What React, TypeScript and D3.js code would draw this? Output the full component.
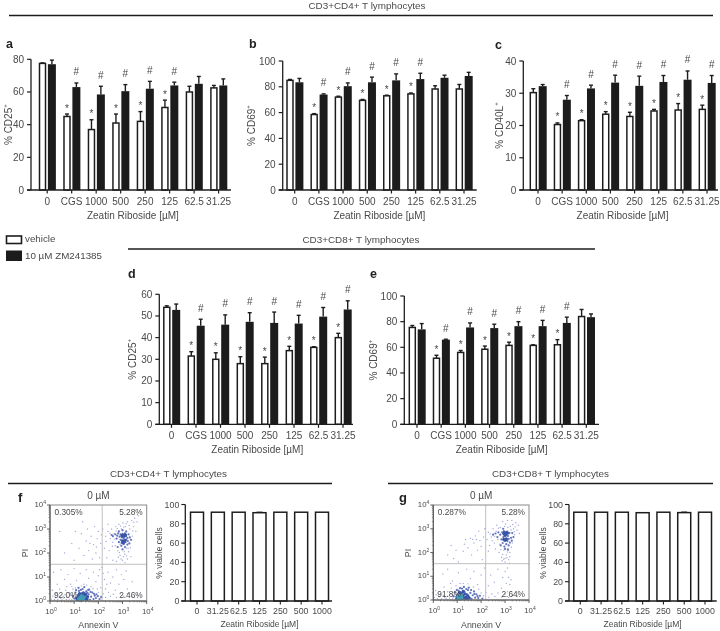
import React from "react";
import * as d3 from "d3";

const FONT = "'Liberation Sans', Arial, sans-serif";
const INK = "#1f1f1f";
const TXT = "#4a4a4a";

const doses = ["0", "CGS", "1000", "500", "250", "125", "62.5", "31.25"];
const viableDosesF = ["0", "31.25", "62.5", "125", "250", "500", "1000"];

const aWhite = [77.5, 45, 37, 41, 42, 50.5, 60, 62.5];
const aWhiteErr = [0.3, 1.5, 6, 5.5, 6, 4.5, 3.5, 1.5];
const aBlack = [77, 63, 58.5, 60.5, 62, 64, 65, 64];
const aBlackErr = [2.5, 2.5, 5, 4, 4.5, 2, 4.5, 4];

const bWhite = [85, 58.5, 72, 69.5, 73, 74.5, 78.3, 78.3];
const bWhiteErr = [0.7, 0.7, 0.7, 0.7, 0.5, 0.7, 2.5, 3.5];
const bBlack = [83.5, 74, 80.5, 83.5, 85, 86, 87, 88.4];
const bBlackErr = [3, 0.5, 2.5, 4, 5, 4.5, 2, 2.8];

const cWhite = [30.2, 20.3, 21.5, 23.5, 22.8, 24.5, 24.8, 25];
const cWhiteErr = [1.2, 0.5, 0.3, 0.8, 1.3, 0.5, 2, 1.3];
const cBlack = [32.2, 28, 31.5, 33.3, 32.3, 33.5, 34.2, 33.2];
const cBlackErr = [0.5, 1.3, 1, 2.3, 3, 2, 2.7, 2.3];

const dWhite = [54, 31.5, 30, 28, 28, 34, 35.5, 40];
const dWhiteErr = [0.7, 2, 3, 3.2, 3, 2, 0.3, 2];
const dBlack = [52.8, 45.5, 46, 47.3, 46.8, 46.5, 49.7, 53];
const dBlackErr = [2.7, 3, 4.5, 4.2, 5, 3.8, 4.2, 4];

const eWhite = [75.5, 51.5, 56, 58.5, 61.5, 61.5, 62, 84];
const eWhiteErr = [1.5, 2.3, 1.5, 2.5, 2.5, 0.5, 4, 5.5];
const eBlack = [74, 66, 75.5, 75, 76.5, 76.5, 79, 83.5];
const eBlackErr = [4.5, 0.3, 3.5, 3, 3.5, 4.5, 4.5, 2.5];

const viableF = [92, 92, 92, 91.5, 92, 92, 92];
const viableFErr = [0, 0, 0, 0.6, 0, 0, 0];
const viableG = [92, 92, 92, 91.5, 92, 91.6, 92];
const viableGErr = [0, 0, 0, 0, 0, 0.6, 0];

type P = [number, number];

const fSparse: P[] = [
  [2.3,2.7],[2.4,2.9],[2.5,2.6],[2.55,3.0],[2.6,2.45],[2.65,2.8],[2.7,2.3],[2.72,3.1],[2.8,2.1],[2.8,2.6],[2.85,3.2],[2.9,1.9],[2.9,2.35],[2.95,3.0],[3.0,1.7],[3.0,2.15],[3.02,3.25],[3.1,1.6],[3.1,1.95],[3.12,3.1],[3.15,2.2],[3.2,1.75],[3.2,3.3],[3.25,2.05],[3.3,2.4],[3.3,3.0],[3.35,1.85],[3.38,3.35],[3.4,2.7],[3.45,3.1],[3.5,3.45],[3.55,2.9],[3.6,3.3],[3.65,3.55],[2.25,2.2],[2.35,1.8],[2.45,2.1],[2.6,1.7],[2.75,1.65],[2.4,3.2],
  [2.32,2.48],[2.48,2.82],[2.58,2.28],[2.66,2.58],[2.74,2.92],[2.83,1.82],[2.87,2.02],[2.94,1.75],[3.04,1.85],[3.07,2.05],[3.17,1.88],[3.23,2.2],[3.28,3.15],[3.33,2.22],[3.42,2.92],[3.47,3.28],[3.05,3.08],[2.92,3.12],[3.15,3.22],[2.78,3.02],
  [0.6,2.0],[0.9,2.4],[1.0,1.7],[1.2,2.2],[1.3,2.8],[1.4,1.9],[1.5,2.5],[1.55,3.0],[1.6,2.1],[1.7,2.7],[1.75,1.75],[1.8,2.35],[1.85,3.1],[1.9,2.0],[1.95,2.6],[2.0,2.9],[2.05,1.8],[2.1,2.4],[1.35,3.3],[0.4,2.9],[1.05,2.9],[1.65,2.4],[1.92,2.25],[2.12,2.75],[2.18,3.0],
  [0.15,1.2],[0.3,0.7],[0.45,1.3],[0.6,0.9],[0.75,1.1],[0.9,0.6],[1.0,1.35],[1.1,0.85],[1.25,1.15],[1.4,0.7],[1.5,1.3],[1.6,0.95],[1.7,0.6],[1.8,1.2],[1.9,0.8],[2.0,1.05],[2.1,0.55],[2.15,1.4],[2.25,0.9],[2.3,0.5],[2.4,1.2],[2.5,0.75],[2.6,1.0],[2.7,0.45],[2.75,1.3],[2.85,0.7],[2.95,1.1],[3.05,0.9],[3.15,1.25],[3.2,0.5],[2.05,1.3],[2.2,1.15],[2.35,0.7],[3.4,0.8],
  [0.1,0.45],[0.25,0.3],[0.4,0.5],[0.55,0.2],[0.65,0.45],[0.8,0.35],[0.95,0.5],[1.05,0.55],[2.0,0.35],[2.1,0.2],[2.2,0.3],[2.3,0.15],[2.42,0.35],[2.5,0.2],[2.62,0.28],[2.75,0.15],[2.9,0.3],[3.05,0.2],[3.2,0.3],[3.4,0.18],[3.6,0.25],
  [0.06,0.08],[0.12,0.2],[0.18,0.05],[0.24,0.14],[0.32,0.06],[0.38,0.2],[0.44,0.1],[0.5,0.04],[0.56,0.12],[0.62,0.26],[0.68,0.06],[0.74,0.16],[0.8,0.08],[0.86,0.24],[0.9,0.05],[0.96,0.14],[0.7,0.6],[0.85,0.7],[1.3,0.62],[1.52,0.66],[1.78,0.52],[1.96,0.5],
];
const fMid: P[] = [
  [2.55,2.75],[2.6,2.7],[2.7,2.78],[2.75,2.6],[2.78,2.72],[2.82,2.82],[2.85,2.45],[2.88,2.68],[2.92,2.55],[2.92,2.78],[2.95,2.3],[2.96,2.42],[2.98,2.65],[3.0,2.8],[3.02,2.5],[3.05,2.38],[3.05,2.62],[3.08,2.72],[3.1,2.82],[3.12,2.45],[3.15,2.56],[3.15,2.7],[3.2,2.35],[3.2,2.62],[3.22,2.5],[3.25,2.78],[3.28,2.4],[3.3,2.65],[3.35,2.55],[2.85,2.9],[3.0,2.95],[3.15,2.9],[2.8,2.25],[3.1,2.25],[3.0,2.15],
  [0.95,0.2],[1.0,0.1],[1.05,0.35],[1.1,0.05],[1.15,0.25],[1.2,0.42],[1.25,0.12],[1.3,0.32],[1.35,0.5],[1.4,0.08],[1.45,0.22],[1.5,0.4],[1.55,0.1],[1.6,0.28],[1.65,0.05],[1.7,0.18],[1.75,0.35],[1.8,0.08],[1.85,0.22],[1.9,0.12],[1.98,0.2],[2.05,0.08],[2.12,0.16],[1.18,0.55],[1.42,0.58],[1.62,0.48],
  [1.08,0.45],[1.28,0.46],[1.55,0.34],[1.68,0.38],[1.58,0.46],[1.82,0.3],[1.92,0.28],
];
const fCore: P[] = [
  [2.98,2.72],[3.02,2.74],[3.07,2.71],[3.12,2.75],[3.0,2.5],[3.05,2.48],[3.1,2.52],[3.03,2.42],
  [1.1,0.12],[1.15,0.05],[1.18,0.18],[1.22,0.08],[1.25,0.22],[1.28,0.05],[1.3,0.14],[1.33,0.26],[1.36,0.06],[1.4,0.17],[1.44,0.1],[1.47,0.28],[1.52,0.06],[1.55,0.18],[1.22,0.3],[1.38,0.34],
];
const fHot: P[] = [[1.2,0.08],[1.26,0.14],[1.32,0.06],[1.38,0.12],[1.24,0.04],[1.3,0.2]];

const gSparse: P[] = [
  [2.25,2.55],[2.3,2.85],[2.35,2.3],[2.42,2.65],[2.5,3.0],[2.55,2.4],[2.6,2.15],[2.65,3.15],[2.7,2.55],[2.75,2.0],[2.78,2.35],[2.8,3.05],[2.85,1.8],[2.9,3.3],[2.95,2.1],[3.0,1.6],[3.02,3.2],[3.05,1.9],[3.1,3.35],[3.12,2.15],[3.15,1.7],[3.2,2.0],[3.22,3.1],[3.28,3.35],[3.3,2.4],[3.35,3.0],[3.4,2.75],[3.45,3.25],[3.5,2.95],[3.55,3.15],[3.6,2.8],[3.0,1.75],[2.88,1.65],[3.18,1.55],[2.3,2.05],
  [2.38,2.78],[2.46,2.5],[2.56,2.68],[2.63,2.9],[2.72,3.02],[2.82,2.12],[2.9,1.92],[2.94,1.72],[3.08,1.78],[3.1,2.02],[3.2,1.82],[3.26,2.22],[3.25,2.95],[3.32,3.18],[3.38,2.88],[3.42,3.08],[2.98,3.1],[3.12,3.05],
  [0.6,1.9],[0.85,1.75],[0.95,2.1],[1.25,2.05],[1.35,2.55],[1.45,2.2],[1.55,2.6],[1.6,1.9],[1.7,2.4],[1.75,2.7],[1.85,2.1],[1.9,2.9],[1.95,2.5],[2.0,2.25],[2.05,1.7],[2.1,2.65],[2.15,3.0],[1.3,2.35],[1.65,2.55],[1.8,2.55],[0.75,2.3],[1.05,1.6],
  [0.4,1.1],[0.6,1.3],[0.8,0.8],[1.05,1.15],[1.25,0.7],[1.4,1.3],[1.55,0.9],[1.7,1.2],[1.85,0.65],[2.0,1.05],[2.15,1.35],[2.3,0.6],[2.4,1.05],[2.55,0.75],[2.7,1.3],[2.85,0.5],[2.9,0.95],[3.0,1.2],[3.05,0.7],[3.1,0.35],[3.15,0.95],[3.2,0.65],[3.25,0.85],[3.1,1.35],
  [0.1,0.4],[0.3,0.25],[0.45,0.55],[0.6,0.35],[0.75,0.5],[0.85,0.2],[0.95,0.6],[1.0,0.45],[2.0,0.3],[2.1,0.18],[2.2,0.32],[2.32,0.12],[2.45,0.25],[2.58,0.15],[2.7,0.3],[2.85,0.12],[3.0,0.25],[3.15,0.1],[3.3,0.2],[3.5,0.15],
  [0.05,0.1],[0.12,0.22],[0.18,0.06],[0.26,0.14],[0.34,0.05],[0.42,0.2],[0.48,0.1],[0.54,0.05],[0.6,0.16],[0.68,0.08],[0.74,0.24],[0.8,0.06],[0.72,0.7],[1.12,0.7],[1.45,0.68],[1.68,0.55],[1.9,0.45],
];
const gMid: P[] = [
  [2.5,2.75],[2.6,2.8],[2.68,2.65],[2.72,2.85],[2.8,2.75],[2.85,2.55],[2.88,2.85],[2.9,2.4],[2.93,2.65],[2.95,2.9],[2.97,2.25],[3.0,2.5],[3.02,2.78],[3.05,2.35],[3.05,2.6],[3.08,2.88],[3.1,2.48],[3.12,2.7],[3.15,2.3],[3.15,2.57],[3.18,2.82],[3.2,2.42],[3.25,2.62],[3.28,2.5],[3.3,2.82],[2.82,2.3],[3.0,2.15],[3.12,2.12],[3.35,2.65],[2.92,3.0],
  [0.85,0.15],[0.9,0.32],[0.95,0.05],[1.0,0.2],[1.05,0.4],[1.1,0.1],[1.15,0.28],[1.2,0.48],[1.25,0.15],[1.3,0.35],[1.35,0.05],[1.4,0.25],[1.45,0.42],[1.5,0.12],[1.55,0.3],[1.6,0.05],[1.65,0.2],[1.7,0.36],[1.75,0.1],[1.8,0.24],[1.88,0.08],[1.95,0.18],[2.05,0.06],[1.28,0.55],[1.48,0.52],
  [0.98,0.42],[1.12,0.5],[1.38,0.46],[1.58,0.42],[1.72,0.26],[1.85,0.16],
];
const gCore: P[] = [
  [2.95,2.8],[3.0,2.83],[3.05,2.79],[3.1,2.82],[2.95,2.55],[3.0,2.52],[3.05,2.56],[3.0,2.72],
  [1.0,0.1],[1.03,0.2],[1.08,0.05],[1.12,0.16],[1.16,0.28],[1.2,0.06],[1.24,0.18],[1.28,0.08],[1.32,0.26],[1.36,0.12],[1.4,0.05],[1.44,0.18],[1.5,0.08],[1.1,0.32],[1.25,0.36],
];
const gHot: P[] = [[1.06,0.08],[1.12,0.05],[1.1,0.14],[1.18,0.1],[1.04,0.16],[1.16,0.18]];

const SUP_DY = -3;

function Label({ x, y, text, size = 10, anchor = "middle", rotate = false, sup }: any) {
  return (
    <text
      x={rotate ? 0 : x}
      y={rotate ? 0 : y}
      transform={rotate ? `translate(${x},${y}) rotate(-90)` : undefined}
      fontFamily={FONT}
      fontSize={size}
      fill={TXT}
      textAnchor={anchor}
      dominantBaseline="central"
    >
      {text}
      {sup && <tspan dy={SUP_DY} fontSize={size * 0.6}>{sup}</tspan>}
    </text>
  );
}

function Rule({ x1, x2, y }: { x1: number; x2: number; y: number }) {
  return <line x1={x1} x2={x2} y1={y} y2={y} stroke={INK} strokeWidth={1.5} />;
}

function Grouped({ axisX, endX, y0, yTop, first, last, max, step, white, whiteErr, black, blackErr, sigWhite, title, sup, titleX, letter, letterX, letterY }: any) {
  const y = d3.scaleLinear().domain([0, max]).range([y0, yTop]);
  const x = d3.scalePoint<string>().domain(doses).range([first, last]);
  const ticks = d3.range(0, max + 0.001, step);
  const off = 4.7;
  const w = 6;
  const bw = 8;
  return (
    <g>
      <text x={letterX} y={letterY} fontFamily={FONT} fontSize={12.5} fontWeight="bold" fill="#222" dominantBaseline="central">{letter}</text>
      {doses.map((d, i) => {
        const c = x(d)!;
        const wx = c - off;
        const bx = c + off;
        const wt = y(white[i] + whiteErr[i]);
        const bt = y(black[i] + blackErr[i]);
        const isSig = sigWhite.includes(i);
        return (
          <g key={d}>
            <line x1={wx} x2={wx} y1={y(white[i])} y2={wt} stroke={INK} strokeWidth={1.4} />
            <line x1={wx - 2} x2={wx + 2} y1={wt} y2={wt} stroke={INK} strokeWidth={1.4} />
            <rect x={wx - w / 2} y={y(white[i])} width={w} height={y0 - y(white[i])} fill="#fff" stroke={INK} strokeWidth={1.5} />
            <line x1={bx} x2={bx} y1={y(black[i])} y2={bt} stroke={INK} strokeWidth={1.4} />
            <line x1={bx - 2} x2={bx + 2} y1={bt} y2={bt} stroke={INK} strokeWidth={1.4} />
            <rect x={bx - bw / 2} y={y(black[i])} width={bw} height={y0 - y(black[i])} fill={INK} />
            {isSig && <text x={wx} y={wt - 6} fontFamily={FONT} fontSize={10} fill={TXT} textAnchor="middle" dominantBaseline="central">*</text>}
            {isSig && <text x={bx} y={bt - 11} fontFamily={FONT} fontSize={10} fill={TXT} textAnchor="middle" dominantBaseline="central">#</text>}
            <line x1={c} x2={c} y1={y0} y2={y0 + 3.5} stroke={INK} strokeWidth={1.2} />
            <Label x={c} y={y0 + 11.5} text={d} />
          </g>
        );
      })}
      <line x1={axisX - 4} x2={endX} y1={y0} y2={y0} stroke={INK} strokeWidth={1.3} />
      <line x1={axisX} x2={axisX} y1={y0} y2={yTop} stroke={INK} strokeWidth={1.3} />
      {ticks.map((t: number) => (
        <g key={t}>
          <line x1={axisX - 4} x2={axisX} y1={y(t)} y2={y(t)} stroke={INK} strokeWidth={1.2} />
          <Label x={axisX - 7} y={y(t)} text={String(t)} anchor="end" />
        </g>
      ))}
      <Label x={titleX} y={(y0 + yTop) / 2} text={title} sup={sup} rotate />
      <Label x={(first + last) / 2} y={y0 + 25} text="Zeatin Riboside [µM]" />
    </g>
  );
}

function Viable({ axisX, endX, first, last, cats, values, errs }: any) {
  const y0 = 601;
  const y = d3.scaleLinear().domain([0, 100]).range([y0, 504.5]);
  const x = d3.scalePoint<string>().domain(cats).range([first, last]);
  return (
    <g>
      {cats.map((d: string, i: number) => {
        const c = x(d)!;
        return (
          <g key={d}>
            {errs[i] > 0 && <line x1={c - 3} x2={c + 3} y1={y(values[i] + errs[i])} y2={y(values[i] + errs[i])} stroke={INK} strokeWidth={1} />}
            <rect x={c - 6.5} y={y(values[i])} width={13} height={y0 - y(values[i])} fill="#fff" stroke={INK} strokeWidth={1.5} />
            <line x1={c} x2={c} y1={y0} y2={y0 + 3.5} stroke={INK} strokeWidth={1.1} />
            <Label x={c} y={y0 + 10} text={d} size={8.8} />
          </g>
        );
      })}
      <line x1={axisX - 4} x2={endX} y1={y0} y2={y0} stroke={INK} strokeWidth={1.3} />
      <line x1={axisX} x2={axisX} y1={y0} y2={504.5} stroke={INK} strokeWidth={1.3} />
      {d3.range(0, 101, 20).map((t: number) => (
        <g key={t}>
          <line x1={axisX - 4} x2={axisX} y1={y(t)} y2={y(t)} stroke={INK} strokeWidth={1.1} />
          <Label x={axisX - 6} y={y(t)} text={String(t)} size={8.8} anchor="end" />
        </g>
      ))}
      <Label x={axisX - 26} y={553} text="% viable cells" size={8.5} rotate />
      <Label x={(first + last) / 2} y={624} text="Zeatin Riboside [µM]" size={8.5} />
    </g>
  );
}

const decades = [0, 1, 2, 3, 4];
const minors = [2, 3, 4, 5, 6, 7, 8, 9];

function Scatter({ left, right, top, bottom, gateX, gateY, sparse, mid, core, hot, ul, ur, ll, lr, letter, letterX }: any) {
  const x = d3.scaleLinear().domain([0, 4]).range([left, right]);
  const y = d3.scaleLinear().domain([0, 4]).range([bottom, top]);
  const sz = 7.8;
  const stroke = "#555";
  return (
    <g>
      <text x={letterX} y={497} fontFamily={FONT} fontSize={13} fontWeight="bold" fill="#222" dominantBaseline="central">{letter}</text>
      <Label x={(left + right) / 2} y={495} text="0 µM" size={10} />
      <g filter="url(#soft)">
        {sparse.map((p: P, i: number) => <circle key={"s" + i} cx={x(p[0])} cy={y(p[1])} r={0.7} fill="#a4aad8" />)}
        {mid.map((p: P, i: number) => <circle key={"m" + i} cx={x(p[0])} cy={y(p[1])} r={1.1} fill="#6273bd" />)}
        {core.map((p: P, i: number) => <circle key={"c" + i} cx={x(p[0])} cy={y(p[1])} r={1.7} fill="#3a56a6" />)}
        {hot.map((p: P, i: number) => <circle key={"h" + i} cx={x(p[0])} cy={y(p[1])} r={2} fill="#3f9fb6" />)}
      </g>
      <line x1={x(gateX)} x2={x(gateX)} y1={top} y2={bottom} stroke="#b9b9b9" strokeWidth={0.9} />
      <line x1={left} x2={right} y1={y(gateY)} y2={y(gateY)} stroke="#b9b9b9" strokeWidth={0.9} />
      <rect x={left} y={top} width={right - left} height={bottom - top} fill="none" stroke="#8a8a8a" strokeWidth={1} />
      <line x1={left} x2={left} y1={top} y2={bottom} stroke={stroke} strokeWidth={1.1} />
      <line x1={left} x2={right} y1={bottom} y2={bottom} stroke={stroke} strokeWidth={1.1} />
      {decades.map((d) => (
        <g key={d}>
          <line x1={x(d)} x2={x(d)} y1={bottom} y2={bottom + 3} stroke={stroke} strokeWidth={0.9} />
          <line x1={left - 3} x2={left} y1={y(d)} y2={y(d)} stroke={stroke} strokeWidth={0.9} />
          <text x={x(d) + 1} y={bottom + 10} fontFamily={FONT} fontSize={sz} fill={TXT} textAnchor="middle" dominantBaseline="central">
            10<tspan dy={-2.5} fontSize={5}>{d}</tspan>
          </text>
          <text x={left - 4} y={y(d) - 0.5} fontFamily={FONT} fontSize={sz} fill={TXT} textAnchor="end" dominantBaseline="central">
            10<tspan dy={-2.5} fontSize={5}>{d}</tspan>
          </text>
          {d < 4 && minors.map((m) => (
            <g key={m}>
              <line x1={x(d + Math.log10(m))} x2={x(d + Math.log10(m))} y1={bottom} y2={bottom + 1.5} stroke={stroke} strokeWidth={0.5} />
              <line x1={left - 1.5} x2={left} y1={y(d + Math.log10(m))} y2={y(d + Math.log10(m))} stroke={stroke} strokeWidth={0.5} />
            </g>
          ))}
        </g>
      ))}
      <Label x={left + 4.5} y={top + 6.5} text={ul} size={8.3} anchor="start" />
      <Label x={right - 4} y={top + 6.5} text={ur} size={8.3} anchor="end" />
      <Label x={left + 4} y={bottom - 6} text={ll} size={8.3} anchor="start" />
      <Label x={right - 4} y={bottom - 6} text={lr} size={8.3} anchor="end" />
      <Label x={left - 25} y={553} text="PI" size={8.8} rotate />
      <Label x={(left + right) / 2} y={625} text="Annexin V" size={8.8} />
    </g>
  );
}

export default function App() {
  return (
    <svg width={720} height={631} style={{ position: "absolute", left: 0, top: 0, background: "#fff" }}>
      <defs>
        <filter id="soft"><feGaussianBlur stdDeviation="0.3" /></filter>
        <filter id="photo" x="0" y="0" width="100%" height="100%"><feGaussianBlur stdDeviation="0.35" /></filter>
      </defs>
      <g filter="url(#photo)">
        <rect x={0} y={0} width={720} height={631} fill="#fff" />
        <Label x={367} y={5} text="CD3+CD4+ T lymphocytes" size={9.9} />
        <Rule x1={9} x2={713} y={15.5} />
        <Label x={361} y={239} text="CD3+CD8+ T lymphocytes" size={9.9} />
        <Rule x1={128} x2={595} y={249} />
        <Label x={168.5} y={473} text="CD3+CD4+ T lymphocytes" size={9.9} />
        <Rule x1={8} x2={332} y={483.5} />
        <Label x={550.5} y={473} text="CD3+CD8+ T lymphocytes" size={9.9} />
        <Rule x1={388} x2={713} y={483.5} />

        <rect x={6.5} y={236} width={15} height={7.5} fill="#fff" stroke={INK} strokeWidth={1.6} />
        <rect x={6} y={250.5} width={16} height={10.5} fill={INK} />
        <Label x={25} y={238.5} text="vehicle" size={9.8} anchor="start" />
        <Label x={25} y={255.5} text="10 µM ZM241385" size={9.8} anchor="start" />

        <Grouped axisX={31} endX={231} y0={190} yTop={59.3} first={47.2} last={218.6} max={80} step={20}
          white={aWhite} whiteErr={aWhiteErr} black={aBlack} blackErr={aBlackErr} sigWhite={[1, 2, 3, 4, 5]}
          title="% CD25" sup="+" titleX={8} letter="a" letterX={6} letterY={44} />
        <Grouped axisX={282.7} endX={476.7} y0={190} yTop={61} first={294.7} last={464} max={100} step={20}
          white={bWhite} whiteErr={bWhiteErr} black={bBlack} blackErr={bBlackErr} sigWhite={[1, 2, 3, 4, 5]}
          title="% CD69" sup="+" titleX={251} letter="b" letterX={249} letterY={44} />
        <Grouped axisX={523.3} endX={718} y0={190} yTop={61} first={538} last={707} max={40} step={10}
          white={cWhite} whiteErr={cWhiteErr} black={cBlack} blackErr={cBlackErr} sigWhite={[1, 2, 3, 4, 5, 6, 7]}
          title="% CD40L" sup="+" titleX={499} letter="c" letterX={495} letterY={45} />
        <Grouped axisX={159.3} endX={353} y0={424.3} yTop={294.3} first={171.5} last={343} max={60} step={10}
          white={dWhite} whiteErr={dWhiteErr} black={dBlack} blackErr={dBlackErr} sigWhite={[1, 2, 3, 4, 5, 6, 7]}
          title="% CD25" sup="+" titleX={132} letter="d" letterX={128} letterY={274} />
        <Grouped axisX={404.3} endX={599} y0={424.3} yTop={296} first={417} last={586.3} max={100} step={20}
          white={eWhite} whiteErr={eWhiteErr} black={eBlack} blackErr={eBlackErr} sigWhite={[1, 2, 3, 4, 5, 6]}
          title="% CD69" sup="+" titleX={373} letter="e" letterX={370} letterY={274} />

        <Scatter left={50} right={146.7} top={505} bottom={601} gateX={2.16} gateY={1.53}
          sparse={fSparse} mid={fMid} core={fCore} hot={fHot}
          ul="0.305%" ur="5.28%" ll="92.0%" lr="2.46%" letter="f" letterX={18} />
        <Viable axisX={185.3} endX={332} first={197} last={322} cats={viableDosesF} values={viableF} errs={viableFErr} />

        <Scatter left={433.3} right={529} top={505} bottom={600} gateX={2.19} gateY={1.53}
          sparse={gSparse} mid={gMid} core={gCore} hot={gHot}
          ul="0.287%" ur="5.28%" ll="91.8%" lr="2.64%" letter="g" letterX={399} />
        <Viable axisX={569} endX={716.7} first={580.3} last={705} cats={viableDosesF} values={viableG} errs={viableGErr} />
      </g>
    </svg>
  );
}
